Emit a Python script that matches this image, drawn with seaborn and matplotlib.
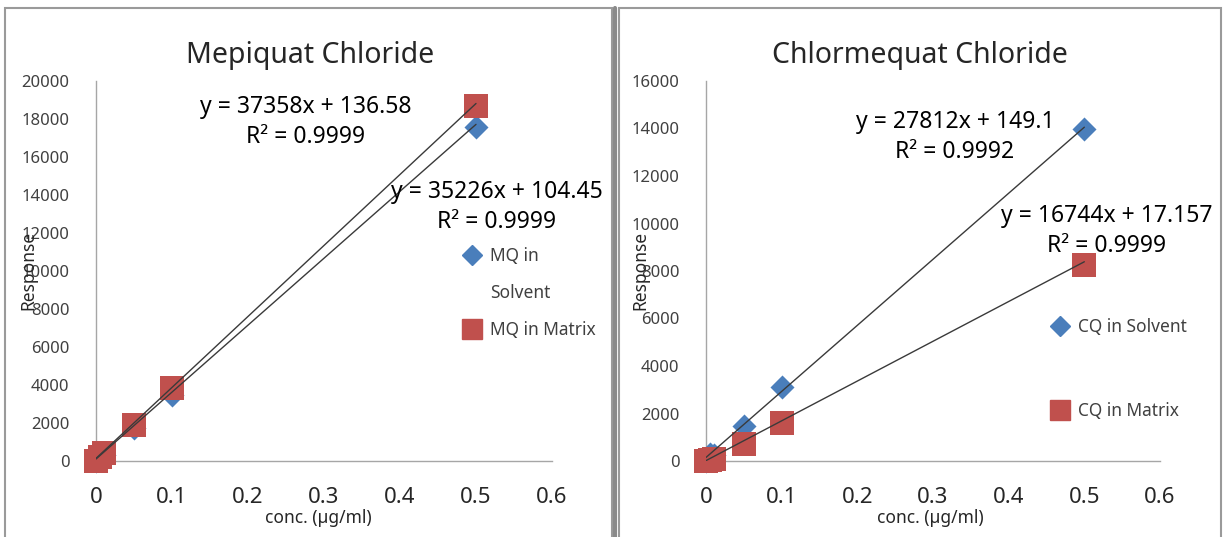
import numpy as np
import pandas as pd
import matplotlib
matplotlib.use("Agg")
import matplotlib.pyplot as plt
from matplotlib.lines import Line2D
from matplotlib.patches import Rectangle
import seaborn as sns

# ---------------- data ----------------
conc = [0, 0.005, 0.01, 0.05, 0.1, 0.5]
mq_solvent = [0, 150, 300, 1750, 3500, 17600]
mq_matrix = [0, 200, 400, 1900, 3850, 18700]
cq_solvent = [0, 300, 250, 1480, 3130, 13980]
cq_matrix = [0, 50, 100, 720, 1610, 8260]

mq_fit_slope = [37358, 35226]
mq_fit_icpt = [136.58, 104.45]
cq_fit_slope = [27812, 16744]
cq_fit_icpt = [149.1, 17.157]

mq_eq = ["y = 37358x + 136.58\nR² = 0.9999", "y = 35226x + 104.45\nR² = 0.9999"]
cq_eq = ["y = 27812x + 149.1\nR² = 0.9992", "y = 16744x + 17.157\nR² = 0.9999"]

titles = ["Mepiquat Chloride", "Chlormequat Chloride"]
x_ticks = [0, 0.1, 0.2, 0.3, 0.4, 0.5, 0.6]
x_ticklabels = ["0", "0.1", "0.2", "0.3", "0.4", "0.5", "0.6"]
mq_yticks = list(range(0, 20001, 2000))
cq_yticks = list(range(0, 16001, 2000))

BLUE = "#4a7ebb"
RED = "#c0504d"

sns.set_style("white")
plt.rcParams['font.family'] = ['Noto Sans', 'DejaVu Sans']

W, H = 1224, 537
fig = plt.figure(figsize=(W / 100, H / 100), dpi=100)

# panel frames
fig.patches.append(Rectangle((5 / W, -0.01), (612 - 5) / W, (537 - 8) / H + 0.01,
                             transform=fig.transFigure, fill=False, ec="#9a9a9a", lw=1.5))
fig.patches.append(Rectangle((619 / W, -0.01), (1221 - 619) / W, (537 - 8) / H + 0.01,
                             transform=fig.transFigure, fill=False, ec="#9a9a9a", lw=1.5))
fig.lines.append(Line2D([615 / W, 615 / W], [0, 1 - 8 / H], transform=fig.transFigure,
                        color="#8a8a8a", lw=3))

def fx(px):
    return px / W

def fy(py):
    return 1 - py / H

def panel(ax, solvent, matrix, slopes, icpts, eqs, eq_pos, yticks, title,
          leg_labels, leg_anchor, leg_spacing, title_x):
    df = pd.DataFrame({"conc": conc * 2,
                       "resp": solvent + matrix,
                       "series": ["solvent"] * len(conc) + ["matrix"] * len(conc)})
    sns.scatterplot(data=df[df.series == "solvent"], x="conc", y="resp", marker="D",
                    color=BLUE, s=150, edgecolor=BLUE, linewidth=0, ax=ax, zorder=3,
                    clip_on=False)
    sns.scatterplot(data=df[df.series == "matrix"], x="conc", y="resp", marker="s",
                    color=RED, s=300, edgecolor=RED, linewidth=0, ax=ax, zorder=4,
                    clip_on=False)
    xs = np.array([min(conc), max(conc)])
    for m, b in zip(slopes, icpts):
        sns.lineplot(x=xs, y=m * xs + b, color="#3a3a3a", lw=1, ax=ax, zorder=5)
    for txt, (px, py) in zip(eqs, eq_pos):
        fig.text(fx(px), fy(py), txt, ha="center", va="center", fontsize=16.5,
                 linespacing=1.3, color="black")
    ax.set_xlim(0, 0.6)
    ax.set_ylim(0, yticks[-1])
    ax.set_xticks(x_ticks)
    ax.set_xticklabels(x_ticklabels, fontsize=16, color="#262626")
    ax.set_yticks(yticks)
    ax.set_yticklabels([str(v) for v in yticks], fontsize=12, color="#404040")
    ax.tick_params(axis="x", length=0, pad=19)
    ax.tick_params(axis="y", length=0, pad=19)
    for s in ["top", "right"]:
        ax.spines[s].set_visible(False)
    for s in ["left", "bottom"]:
        ax.spines[s].set_color("#a6a6a6")
        ax.spines[s].set_linewidth(1)
    ax.set_xlabel("")
    ax.set_ylabel("")
    ax.set_facecolor("none")
    fig.text(fx(title_x), fy(55), title, ha="center", va="center", fontsize=20.5)
    handles = []
    for lab, kind in leg_labels:
        if kind == "D":
            handles.append(Line2D([], [], marker="D", color=BLUE, ls="none", markersize=10))
        elif kind == "s":
            handles.append(Line2D([], [], marker="s", color=RED, ls="none", markersize=15))
        else:
            handles.append(Line2D([], [], ls="none"))
    leg = ax.legend(handles, [l for l, _ in leg_labels], loc="upper left",
                    bbox_to_anchor=(fx(leg_anchor[0]), fy(leg_anchor[1])),
                    bbox_transform=fig.transFigure, frameon=False, fontsize=12.5,
                    labelspacing=leg_spacing, handletextpad=0.4, handlelength=1.2,
                    borderpad=0, borderaxespad=0)
    for t in leg.get_texts():
        t.set_color("#404040")

axL = fig.add_axes([fx(96), fy(461), fx(552) - fx(96), fy(81) - fy(461)])
panel(axL, mq_solvent, mq_matrix, mq_fit_slope, mq_fit_icpt, mq_eq,
      [(306, 122), (497, 207)], mq_yticks, titles[0],
      [("MQ in", "D"), ("Solvent", None), ("MQ in Matrix", "s")],
      (462, 247), 1.1, 310)

axR = fig.add_axes([fx(706), fy(461), fx(1160) - fx(706), fy(81) - fy(461)])
panel(axR, cq_solvent, cq_matrix, cq_fit_slope, cq_fit_icpt, cq_eq,
      [(955, 137), (1107, 231)], cq_yticks, titles[1],
      [("CQ in Solvent", "D"), ("CQ in Matrix", "s")],
      (1050, 318), 3.8, 920)

fig.text(fx(28), fy(270), "Response", rotation=90, ha="center", va="center", fontsize=12.5)
fig.text(fx(640), fy(270), "Response", rotation=90, ha="center", va="center", fontsize=12.5)
fig.text(fx(318), fy(518), "conc. (µg/ml)", ha="center", va="center", fontsize=12.5)
fig.text(fx(930), fy(518), "conc. (µg/ml)", ha="center", va="center", fontsize=12.5)

fig.savefig("out.png", dpi=100)
